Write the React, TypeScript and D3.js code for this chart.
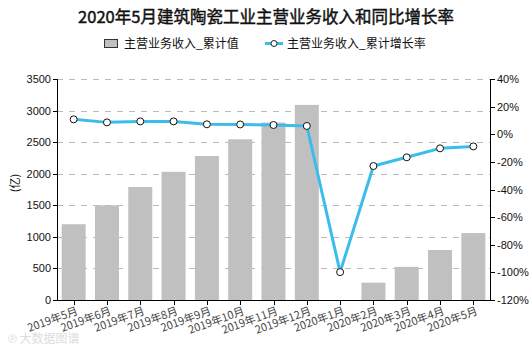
import React from "react";
import * as d3 from "d3";

const categories = ["2019年5月","2019年6月","2019年7月","2019年8月","2019年9月","2019年10月","2019年11月","2019年12月","2020年1月","2020年2月","2020年3月","2020年4月","2020年5月"];
const revenue: (number | null)[] = [1200, 1500, 1790, 2030, 2280, 2545, 2810, 3090, null, 275, 525, 792, 1060];
const growth = [10.8, 8.6, 9.3, 9.3, 7.2, 7.1, 6.7, 6.0, -99.8, -23.0, -16.7, -10.2, -8.8];
const leftTicks = [0, 500, 1000, 1500, 2000, 2500, 3000, 3500];
const rightTicks = [-120, -100, -80, -60, -40, -20, 0, 20, 40];

const W = 532, H = 350;
const L = 57, R = 490, T = 79, B = 300;
const NUM = "'Liberation Sans', 'Noto Sans CJK SC', sans-serif";
const CJK = "'Noto Sans CJK SC', sans-serif";

export default function App() {
  const x = d3.scaleBand<string>().domain(categories).range([L, R]).paddingInner(0.28).paddingOuter(0.14);
  const xc = (c: string) => (x(c) as number) + x.bandwidth() / 2;
  const yL = d3.scaleLinear().domain([0, 3500]).range([B, T]);
  const yR = d3.scaleLinear().domain([-120, 40]).range([B, T]);
  const line = d3.line<number>().x((_, i) => xc(categories[i])).y((d) => yR(d));
  const step = (R - L) / categories.length;
  const center = (i: number) => L + step * (i + 0.5);
  const bw = step * 0.72;

  return (
    <svg width={W} height={H} style={{ position: "absolute", left: 0, top: 0, background: "#fff" }}>
      <text x={266} y={23} textAnchor="middle" fontFamily={CJK} fontSize={16.5} fontWeight={400} stroke="#111" strokeWidth={0.45} fill="#111">2020年5月建筑陶瓷工业主营业务收入和同比增长率</text>
      {/* legend */}
      <rect x={104.5} y={39.5} width={13} height={8} fill="#c0c0c0" stroke="#333" strokeWidth={1} />
      <text x={124} y={48} fontFamily={CJK} fontSize={12} fill="#111">主营业务收入_累计值</text>
      <line x1={265} x2={283} y1={43.5} y2={43.5} stroke="#3bbdeb" strokeWidth={3} />
      <circle cx={274} cy={43.5} r={3} fill="#fff" stroke="#222" strokeWidth={1} />
      <text x={287} y={48} fontFamily={CJK} fontSize={12} fill="#111">主营业务收入_累计增长率</text>

      {/* grid */}
      {leftTicks.filter((t) => t > 0).map((t) => (
        <line key={t} x1={L} x2={R} y1={Math.round(yL(t)) + 0.5} y2={Math.round(yL(t)) + 0.5} stroke="#bbb" strokeDasharray="6,6" />
      ))}

      {/* bars */}
      {revenue.map((v, i) => v == null ? null : (
        <rect key={i} x={center(i) - bw / 2} y={yL(v)} width={bw} height={B - yL(v)} fill="#c0c0c0" />
      ))}

      {/* line */}
      <path d={line(growth) || ""} fill="none" stroke="#3bbdeb" strokeWidth={3} strokeLinejoin="round" />
      {growth.map((g, i) => (
        <circle key={i} cx={xc(categories[i])} cy={yR(g)} r={3.5} fill="#fff" stroke="#111" strokeWidth={1} />
      ))}

      {/* axes */}
      <line x1={L + 0.5} x2={L + 0.5} y1={T} y2={B} stroke="#000" />
      <line x1={R + 0.5} x2={R + 0.5} y1={T} y2={B} stroke="#000" />
      <line x1={L} x2={R + 1} y1={B + 0.5} y2={B + 0.5} stroke="#000" />
      {leftTicks.map((t) => (
        <g key={t}>
          <line x1={L - 4} x2={L} y1={Math.round(yL(t)) + 0.5} y2={Math.round(yL(t)) + 0.5} stroke="#000" />
          <text x={L - 6} y={yL(t) + 4} textAnchor="end" fontFamily={NUM} fontSize={11} fill="#111">{t}</text>
        </g>
      ))}
      {rightTicks.map((t) => (
        <g key={t}>
          <line x1={R} x2={R + 5} y1={Math.round(yR(t)) + 0.5} y2={Math.round(yR(t)) + 0.5} stroke="#000" />
          <text x={R + 7} y={yR(t) + 4} textAnchor="start" fontFamily={NUM} fontSize={11} fill="#111">{t}%</text>
        </g>
      ))}
      {categories.map((c, i) => (
        <g key={c}>
          <line x1={Math.round(center(i)) + 0.5} x2={Math.round(center(i)) + 0.5} y1={B} y2={B + 5} stroke="#000" />
          <text transform={`translate(${center(i) + 5},${B + 14}) rotate(-20)`} textAnchor="end" fontFamily={CJK} fontSize={11} fill="#444">{c}</text>
        </g>
      ))}
      <text transform={`translate(19,183) rotate(-90)`} textAnchor="middle" fontFamily={CJK} fontSize={11} fill="#111">(亿)</text>
      <text x={8} y={343} fontFamily={CJK} fontSize={12} fill="#ddd">℗ 大数据图谱</text>
    </svg>
  );
}
